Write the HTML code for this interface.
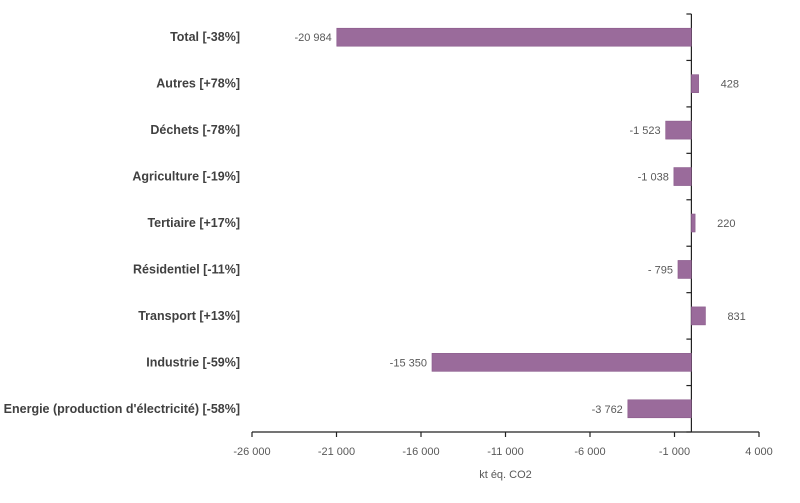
<!DOCTYPE html>
<html><head><meta charset="utf-8"><style>
body{margin:0;background:#fff;width:800px;height:498px;overflow:hidden}
svg text{font-family:"Liberation Sans Narrow","Liberation Sans",sans-serif}
</style></head><body>
<svg id="chart" width="800" height="498" xmlns="http://www.w3.org/2000/svg"></svg>
<script>
const categories=["Total [-38%]","Autres [+78%]","Déchets [-78%]","Agriculture [-19%]","Tertiaire  [+17%]","Résidentiel  [-11%]","Transport [+13%]","Industrie [-59%]","Energie (production d'électricité) [-58%]"];
const values=[-20984,428,-1523,-1038,220,-795,831,-15350,-3762];
const valueLabels=["-20 984","428","-1 523","-1 038","220","- 795","831","-15 350","-3 762"];
const ticks=[-26000,-21000,-16000,-11000,-6000,-1000,4000];
const tickLabels=["-26 000","-21 000","-16 000","-11 000","-6 000","-1 000","4 000"];
const NS="http://www.w3.org/2000/svg";
const svg=document.getElementById('chart');
const x0=252,x1=759,vmin=-26000,vmax=4000,yTop=14,yBottom=432;
const X=v=>x0+(v-vmin)/(vmax-vmin)*(x1-x0);
const band=(yBottom-yTop)/categories.length;
const Y=i=>yTop+band*(i+0.5);
function mk(t,a){const e=document.createElementNS(NS,t);for(const k in a)e.setAttribute(k,a[k]);svg.appendChild(e);return e;}
let ax=mk('line',{x1:x0,y1:yBottom,x2:x1,y2:yBottom,stroke:'#222','stroke-width':1.2});


let ay=mk('line',{x1:X(0),y1:yTop,x2:X(0),y2:yBottom,stroke:'#222','stroke-width':1.2});


for(let i=0;i<=categories.length;i++){
  let t=mk('line',{x1:X(0)-5,y1:yTop+band*i,x2:X(0),y2:yTop+band*i,stroke:'#222','stroke-width':1.2});
  
  
}
ticks.forEach((v,i)=>{
  let t=mk('line',{x1:X(v),y1:yBottom,x2:X(v),y2:yBottom+5,stroke:'#222','stroke-width':1.2});
  
  
  let l=mk('text',{x:X(v),y:yBottom+23,'text-anchor':'middle','font-size':11,fill:'#595959'});
  l.textContent=tickLabels[i];
  
  
});
let xt=mk('text',{x:(x0+x1)/2,y:yBottom+46,'text-anchor':'middle','font-size':11,fill:'#595959'});
xt.textContent='kt éq. CO2';


categories.forEach((c,i)=>{
  const v=values[i],y=Y(i);
  let cl=mk('text',{x:240,y:y+4,'text-anchor':'end','font-size':12.5,'font-weight':'bold',fill:'#404040'});
  cl.textContent=c;
  
  
  const xa=Math.min(X(0),X(v)),w=Math.abs(X(v)-X(0));
  let b=mk('rect',{x:xa,y:y-9,width:w,height:18,fill:'#9a6b9b',stroke:'#8a5a8b','stroke-width':0.6});
  
  
  let vl;
  if(v<0) vl=mk('text',{x:X(v)-5,y:y+4,'text-anchor':'end','font-size':11,fill:'#595959'});
  else vl=mk('text',{x:X(v)+22,y:y+4,'text-anchor':'start','font-size':11,fill:'#595959'});
  vl.textContent=valueLabels[i];
  
  
});
</script>
</body></html>
